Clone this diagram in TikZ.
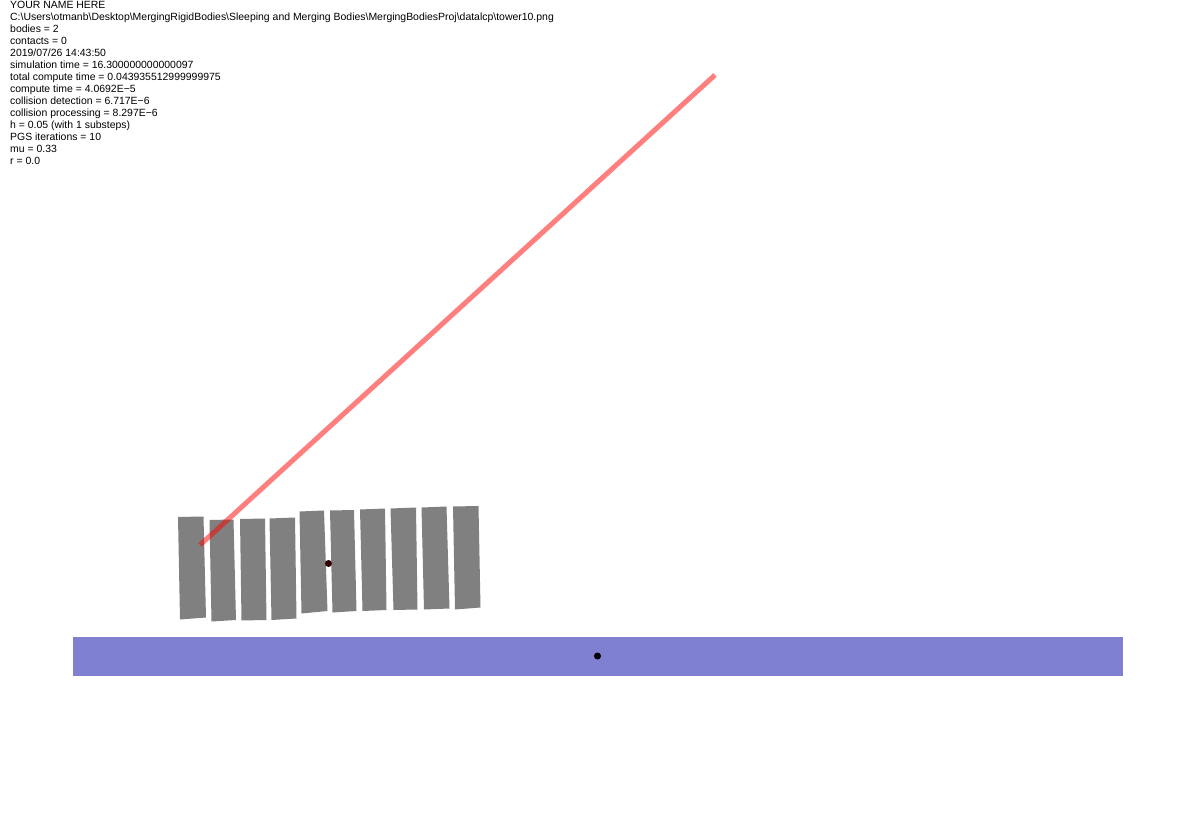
\documentclass[tikz,border=0pt]{standalone}
\usepackage{fontspec}
\setmainfont{Liberation Sans}
\definecolor{blockgray}{RGB}{128,128,128}
\definecolor{floorblue}{RGB}{128,128,208}
\definecolor{dotdark}{RGB}{48,0,0}
\begin{document}
\begin{tikzpicture}[
  x=1pt, y=-1pt,
  info/.style={anchor=north west, inner sep=0pt, align=left,
               font=\fontsize{10.45}{12}\selectfont},
  block/.style={fill=blockgray},
  floor/.style={fill=floorblue},
  beam/.style={draw=red, opacity=0.5, line width=5pt},
  com/.style={fill=dotdark}
]
\useasboundingbox (0,0) rectangle (1196,826);

\node[info] (stats) at (10,1.5) {YOUR NAME HERE\\
C:\textbackslash Users\textbackslash otmanb\textbackslash Desktop\textbackslash MergingRigidBodies\textbackslash Sleeping and Merging Bodies\textbackslash MergingBodiesProj\textbackslash datalcp\textbackslash tower10.png\\
bodies = 2\\
contacts = 0\\
2019/07/26 14:43:50\\
simulation time = 16.300000000000097\\
total compute time = 0.043935512999999975\\
compute time = 4.0692E−5\\
collision detection = 6.717E−6\\
collision processing = 8.297E−6\\
h = 0.05 (with 1 substeps)\\
PGS iterations = 10\\
mu = 0.33\\
r = 0.0};

% ground
\fill[floor] (73,637) rectangle (1123,676);

% tower of blocks
\fill[block] (178,517) -- (203.5,516.5) -- (206,617.5) -- (180,619.5) -- cycle;
\fill[block] (209.5,520) -- (233.5,519.5) -- (236,620) -- (211.5,621.5) -- cycle;
\fill[block] (240,519) -- (265,518.5) -- (266.5,620) -- (241.5,620.5) -- cycle;
\fill[block] (269.5,518.5) -- (295,517.5) -- (296.5,618.5) -- (271.5,620) -- cycle;
\fill[block] (299.5,511.5) -- (324,510.5) -- (327.5,611) -- (301.5,613.5) -- cycle;
\fill[block] (330,510.5) -- (354,510) -- (356.5,611) -- (332.5,612.5) -- cycle;
\fill[block] (360,509.5) -- (385,508.5) -- (386.5,610) -- (362.5,611) -- cycle;
\fill[block] (390.5,508.5) -- (416,507.5) -- (417.5,609.5) -- (393.5,610) -- cycle;
\fill[block] (421.5,507.5) -- (446.5,506.5) -- (449.5,608.5) -- (424,609.5) -- cycle;
\fill[block] (453,506.5) -- (478.5,506) -- (480.5,607.5) -- (455,609.5) -- cycle;

% spring
\coordinate (grab) at (200,545);
\coordinate (mouse) at (715,75);
\draw[beam] (grab) -- (mouse);

% centres of mass
\fill[com] (328.5,563.5) circle (3.5);
\fill[black] (597.5,656) circle (3.5);
\end{tikzpicture}
\end{document}
